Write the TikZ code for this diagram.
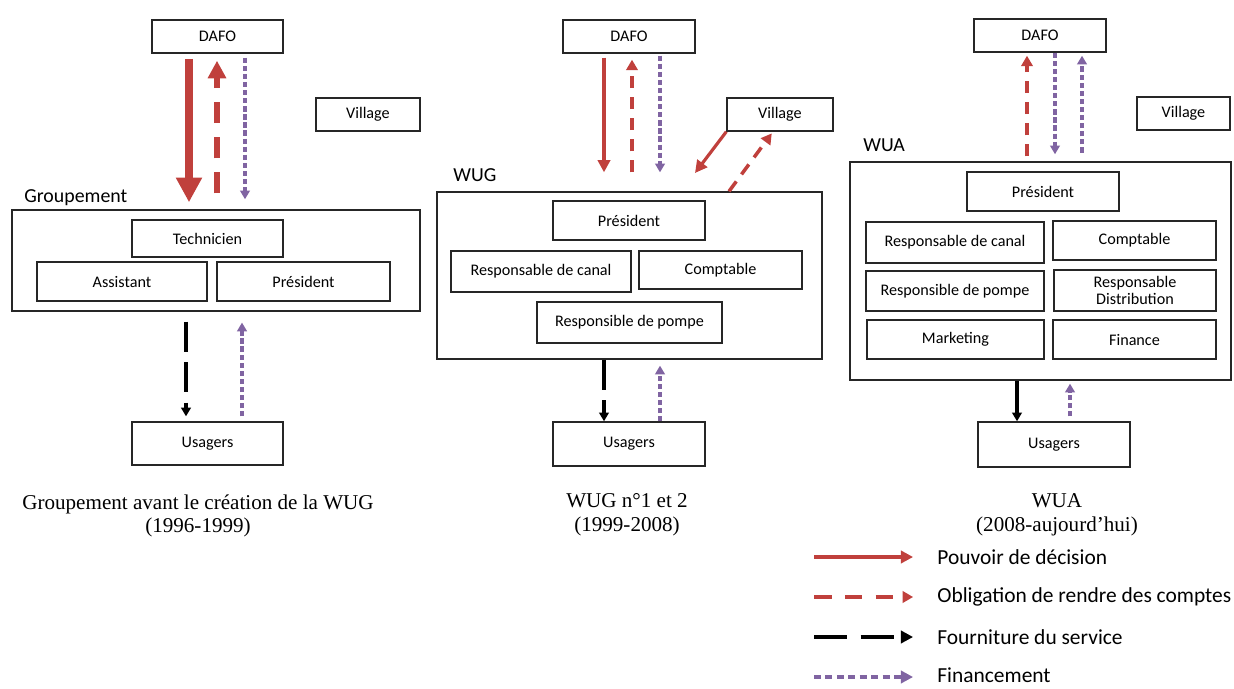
\documentclass[tikz,border=0pt]{standalone}
\usepackage{fontspec}
\setmainfont{Liberation Serif}
\newfontfamily\boxfont{Carlito}
\usetikzlibrary{arrows.meta, calc}
\definecolor{decred}{RGB}{192, 64, 60}
\definecolor{finpurple}{RGB}{128, 100, 162}

\begin{document}
\begin{tikzpicture}[x=0.02cm, y=-0.02cm]
  \tikzstyle{box}=[draw=black!85, line width=0.8pt, inner sep=0pt, font=\boxfont\fontsize{9.2}{10}\selectfont]
  \tikzstyle{group}=[draw=black!85, line width=0.8pt, inner sep=0pt]
  \tikzstyle{title}=[anchor=base west, inner sep=0pt, font=\boxfont\fontsize{11.3}{12}\selectfont]
  \tikzstyle{caption}=[align=center, inner sep=0pt, font=\fontsize{12}{13.5}\selectfont]
  \tikzstyle{legend}=[anchor=west, inner sep=0pt, font=\boxfont\fontsize{12.2}{13}\selectfont]
  \tikzstyle{decisionbig}=[decred, line width=4.5pt, -{Triangle[width=14pt,length=14pt]}]
  \tikzstyle{accountbig}=[decred, line width=3.6pt, dash pattern=on 12pt off 8pt, -{Triangle[width=10pt,length=10pt]}]
  \tikzstyle{decision}=[decred, line width=1.8pt, -{Triangle[width=7pt,length=7pt]}]
  \tikzstyle{account}=[decred, line width=2pt, dash pattern=on 7pt off 5pt, -{Triangle[width=6.5pt,length=6pt]}]
  \tikzstyle{finance}=[finpurple, line width=1.8pt, dash pattern=on 3pt off 1.6pt, -{Triangle[width=5.5pt,length=5pt]}]
  \tikzstyle{service}=[black, line width=1.8pt, dash pattern=on 17pt off 6pt, -{Triangle[width=5.5pt,length=5pt]}]

  \useasboundingbox (0,0) rectangle (1234,689);

  % Groupement (1996-1999)
  \node[box, minimum width=2.62cm, minimum height=0.66cm] (dafoA) at (217.5,36.5) {DAFO};
  \node[box, minimum width=2.08cm, minimum height=0.66cm] (villA) at (368,114.5) {Village};
  \node[group, minimum width=8.16cm, minimum height=2.02cm] (grpA) at (216,260.5) {};
  \node[title] (tA) at (24,203) {Groupement};
  \node[box, minimum width=3.02cm, minimum height=0.74cm] (techA) at (207.5,238.5) {Technicien};
  \node[box, minimum width=3.4cm, minimum height=0.78cm] (assA) at (122,281.5) {Assistant};
  \node[box, minimum width=3.46cm, minimum height=0.78cm] (presA) at (303.5,281.5) {Président};
  \node[box, minimum width=3.02cm, minimum height=0.86cm] (usaA) at (207.5,443.5) {Usagers};
  \node[caption] (capA) at (198,516) {Groupement avant le création de la WUG\\(1996-1999)};

  \draw[decisionbig, shorten <=3pt, shorten >=4pt] (dafoA.south -| 189,0) -- (grpA.north -| 189,0);
  \draw[accountbig, shorten <=9pt, shorten >=4pt] (grpA.north -| 217,0) -- (dafoA.south -| 217,0);
  \draw[finance, shorten <=2.3pt, shorten >=5.7pt] (dafoA.south -| 245,0) -- (grpA.north -| 245,0);
  \draw[service, shorten <=5.7pt, shorten >=2.8pt] (grpA.south -| 186,0) -- (usaA.north -| 186,0);
  \draw[finance, shorten <=2.8pt, shorten >=6.2pt] (usaA.north -| 242,0) -- (grpA.south -| 242,0);

  % WUG n°1 et 2 (1999-2008)
  \node[box, minimum width=2.64cm, minimum height=0.66cm] (dafoB) at (629,36.5) {DAFO};
  \node[box, minimum width=2.12cm, minimum height=0.66cm] (villB) at (780,114.5) {Village};
  \node[group, minimum width=7.7cm, minimum height=3.34cm] (grpB) at (629.5,275.5) {};
  \node[title] (tB) at (453,182) {WUG};
  \node[box, minimum width=3.04cm, minimum height=0.78cm] (presB) at (629,220.5) {Président};
  \node[box, minimum width=3.6cm, minimum height=0.82cm] (canB) at (541,271.5) {Responsable de canal};
  \node[box, minimum width=3.26cm, minimum height=0.76cm] (compB) at (720.5,270) {Comptable};
  \node[box, minimum width=3.7cm, minimum height=0.82cm] (pompB) at (629.5,322.5) {Responsible de pompe};
  \node[box, minimum width=3.04cm, minimum height=0.88cm] (usaB) at (629,444) {Usagers};
  \node[caption] (capB) at (627,515) {WUG n°1 et 2\\(1999-2008)};

  \draw[decision, shorten <=2.3pt, shorten >=10.8pt] (dafoB.south -| 604,0) -- (grpB.north -| 604,0);
  \draw[account, shorten <=10.8pt, shorten >=3.4pt] (grpB.north -| 632,0) -- (dafoB.south -| 632,0);
  \draw[finance, shorten <=1.1pt, shorten >=10.8pt] (dafoB.south -| 660,0) -- (grpB.north -| 660,0);
  \coordinate (vB) at (695,173);
  \draw[decision] (villB.south west) -- (vB);
  \draw[account, shorten >=1.2pt] (grpB.north -| 729,0) -- (villB.south -| 773,0);
  \draw[service] (grpB.south -| 604,0) -- (usaB.north -| 604,0);
  \draw[finance, shorten >=3.4pt] (usaB.north -| 660,0) -- (grpB.south -| 660,0);

  % WUA (2008-aujourd'hui)
  \node[box, minimum width=2.64cm, minimum height=0.66cm] (dafoC) at (1040,35.5) {DAFO};
  \node[box, minimum width=1.86cm, minimum height=0.66cm] (villC) at (1183.5,113.5) {Village};
  \node[group, minimum width=7.62cm, minimum height=4.36cm] (grpC) at (1040.5,271) {};
  \node[title] (tC) at (863,152) {WUA};
  \node[box, minimum width=3.04cm, minimum height=0.78cm] (presC) at (1043,191.5) {Président};
  \node[box, minimum width=3.56cm, minimum height=0.82cm] (canC) at (955,242.5) {Responsable de canal};
  \node[box, minimum width=3.26cm, minimum height=0.78cm] (compC) at (1134.5,240.5) {Comptable};
  \node[box, minimum width=3.56cm, minimum height=0.8cm] (pompC) at (955,291) {Responsible de pompe};
  \node[box, minimum width=3.24cm, minimum height=0.82cm, align=center] (distC) at (1135,290.5) {Responsable\\Distribution};
  \node[box, minimum width=3.54cm, minimum height=0.78cm] (markC) at (955.5,339.5) {Marketing};
  \node[box, minimum width=3.26cm, minimum height=0.78cm] (finC) at (1134.5,339.5) {Finance};
  \node[box, minimum width=3.04cm, minimum height=0.9cm] (usaC) at (1054,444.5) {Usagers};
  \node[caption] (capC) at (1057,515) {WUA\\(2008-aujourd’hui)};

  \draw[account, shorten <=2.8pt, shorten >=1.7pt] (grpC.north -| 1027,0) -- (dafoC.south -| 1027,0);
  \draw[finance, shorten >=4pt] (dafoC.south -| 1055,0) -- (grpC.north -| 1055,0);
  \draw[finance, shorten <=5pt, shorten >=1.7pt] (grpC.north -| 1082,0) -- (dafoC.south -| 1082,0);
  \draw[service, solid] (grpC.south -| 1017,0) -- (usaC.north -| 1017,0);
  \draw[finance, shorten <=2.8pt, shorten >=1.7pt] (usaC.north -| 1070,0) -- (grpC.south -| 1070,0);

  % Legend
  \node[legend] (leg1) at (937,557) {Pouvoir de décision};
  \node[legend] (leg2) at (937,597) {Obligation de rendre des comptes};
  \node[legend] (leg3) at (937,637) {Fourniture du service};
  \node[legend] (leg4) at (937,675) {Financement};
  \foreach \i/\y in {1/557,2/597,3/637,4/677} {
    \coordinate (k\i) at (814,\y);
  }
  \draw[decision, line width=2.5pt, shorten >=13.6pt] (k1) -- (leg1.west);
  \draw[account, line width=2.5pt, dash pattern=on 10pt off 7.5pt, shorten >=13.6pt] (k2) -- (leg2.west);
  \draw[service, line width=2.5pt, dash pattern=on 19pt off 7.5pt, -{Triangle[width=7pt,length=7pt]}, shorten >=13.6pt] (k3) -- (leg3.west);
  \draw[finance, line width=2.5pt, dash pattern=on 4pt off 2.5pt, -{Triangle[width=7pt,length=7pt]}, shorten >=13.6pt] (k4) -- (k4 -| leg4.west);
\end{tikzpicture}
\end{document}
